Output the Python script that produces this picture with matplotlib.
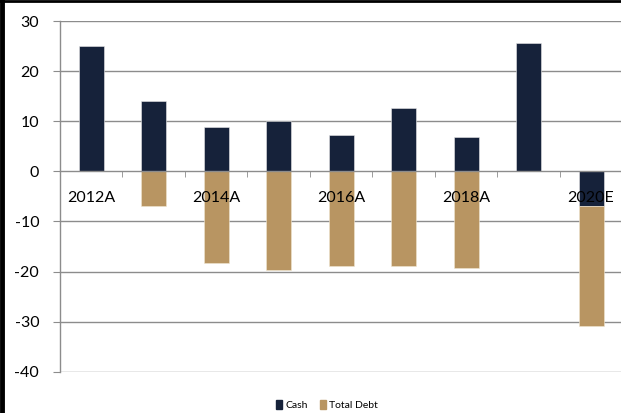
import matplotlib
matplotlib.use("Agg")
import matplotlib.pyplot as plt
from matplotlib.lines import Line2D
from matplotlib.patches import Patch
import numpy as np

categories = ["2012A", "2013A", "2014A", "2015A", "2016A", "2017A", "2018A", "2019A", "2020E"]
cash = [25.0, 14.0, 8.9, 10.0, 7.2, 12.7, 6.9, 25.6, -6.9]
total_debt = [0.0, -6.9, -18.4, -19.7, -19.0, -19.0, -19.3, 0.0, -23.9]
shown_labels = ["2012A", "", "2014A", "", "2016A", "", "2018A", "", "2020E"]
yticks = [-40, -30, -20, -10, 0, 10, 20, 30]

cash_color = "#16223A"
debt_color = "#B89562"
grid_color = "#8C8C8C"

plt.rcParams["font.family"] = ["Lato", "DejaVu Sans"]

fig = plt.figure(figsize=(6.21, 4.13), dpi=100)
ax = fig.add_axes([60 / 621, 1 - 371.7 / 413, 1 - 60 / 621 + 0.002, (371.7 - 21) / 413])

x = np.arange(len(categories))
cash_arr = np.array(cash)
debt_arr = np.array(total_debt)
debt_bottom = np.where(cash_arr < 0, cash_arr, 0.0)

ax.bar(x, cash_arr, width=0.4, color=cash_color, edgecolor="#E8E8E8", linewidth=0.4, zorder=2)
ax.bar(x, debt_arr, width=0.4, bottom=debt_bottom, color=debt_color,
       edgecolor="#F0E6D2", linewidth=0.4, zorder=2)

for yv in yticks:
    if yv != 0:
        ax.axhline(yv, color=grid_color, linewidth=1.0, zorder=0)

ax.set_xlim(-0.5, len(categories) - 0.5)
ax.set_ylim(-40, 30)
ax.set_yticks(yticks)
ax.set_yticklabels([str(v) for v in yticks])

ax.set_xticks(x)
ax.set_xticklabels(shown_labels)
ax.set_xticks(np.arange(-0.5, len(categories) + 0.5, 1.0), minor=True)
ax.tick_params(axis="x", which="major", length=0, pad=14, labelsize=11.5)
ax.tick_params(axis="x", which="minor", length=4, color=grid_color, direction="out")
ax.tick_params(axis="y", length=5, color=grid_color, pad=10, labelsize=11.5)
ax.xaxis.set_zorder(3)
ax.yaxis.set_zorder(3)

for s in ["top", "right"]:
    ax.spines[s].set_visible(False)
ax.spines["bottom"].set_position(("data", 0))
ax.spines["bottom"].set_color(grid_color)
ax.spines["bottom"].set_linewidth(1.0)
ax.spines["left"].set_color(grid_color)
ax.spines["left"].set_linewidth(1.0)

handles = [Patch(color=cash_color, label="Cash"), Patch(color=debt_color, label="Total Debt")]
fig.legend(handles=handles, loc="center", bbox_to_anchor=(327 / 621, 1 - 405 / 413),
           ncol=2, frameon=False, fontsize=7.5, handlelength=0.6, handleheight=0.9,
           handletextpad=0.3, columnspacing=1.2)

# outer border lines (left and top)
fig.add_artist(Line2D([2 / 621, 2 / 621], [0, 1], transform=fig.transFigure, color="black", linewidth=3.5))
fig.add_artist(Line2D([0, 1], [1 - 0.8 / 413, 1 - 0.8 / 413], transform=fig.transFigure, color="black", linewidth=2))

fig.savefig("out.png", dpi=100)
